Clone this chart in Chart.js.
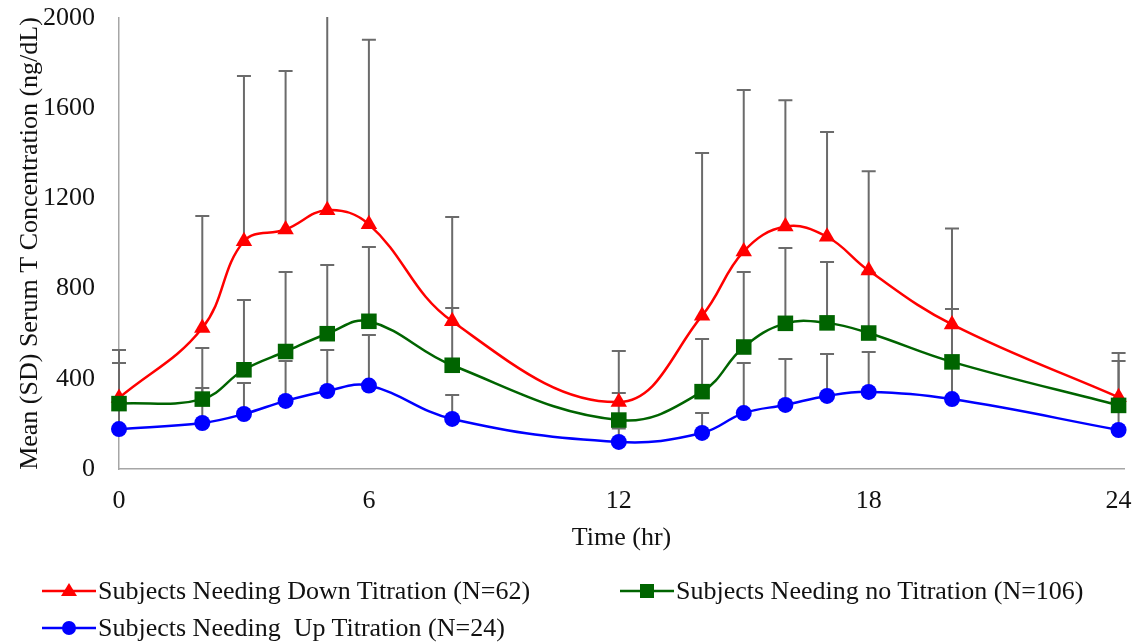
<!DOCTYPE html>
<html>
<head>
<meta charset="utf-8">
<script src="https://cdn.jsdelivr.net/npm/chart.js@4.4.0/dist/chart.umd.min.js"></script>
<style>
  body { margin: 0; background: #fff; }
  #wrap { position: relative; width: 1135px; height: 643px; }
  #legend { position: absolute; left: 0; top: 0; width: 1135px; height: 643px; pointer-events: none;
            font-family: 'Liberation Serif', 'Times New Roman', serif; font-size: 26px; color: #111; }
  .item { position: absolute; display: flex; align-items: center; white-space: pre; }
  .item svg { margin-right: 2px; }
</style>
</head>
<body>
<div id="wrap">
  <canvas id="chart" width="1135" height="643"></canvas>
  <div id="legend"></div>
</div>
<script>
const hours = [0, 2, 3, 4, 5, 6, 8, 12, 14, 15, 16, 17, 18, 20, 24];
const xTicks = [0, 6, 12, 18, 24];

const downMean = [315, 625, 1010, 1062, 1148, 1085, 655, 297, 680, 965, 1075, 1030, 880, 641, 318];
const downSD   = [213, 497, 733, 703, 912, 818, 463, 226, 721, 716, 560, 465, 440, 426, 196];

const noneMean = [290, 310, 440, 521, 600, 655, 460, 217, 343, 541, 646, 648, 603, 475, 282];
const noneSD   = [180, 227, 310, 353, 305, 330, 254, 120, 234, 333, 334, 270, 267, 235, 197];

const upMean = [177, 204, 244, 302, 346, 370, 222, 120, 160, 248, 284, 324, 342, 310, 173];
const upSD   = [93, 155, 137, 177, 182, 224, 106, 60, 88, 222, 204, 186, 177, 160, 127];

const names = [
  'Subjects Needing Down Titration (N=62)',
  'Subjects Needing no Titration (N=106)',
  'Subjects Needing  Up Titration (N=24)'
];
const colors = ['#ff0000', '#006400', '#0000ff'];
const markers = ['triangle', 'rect', 'circle'];
const markerSize = [9.5, 11, 8];

const means = [downMean, noneMean, upMean];
const sds = [downSD, noneSD, upSD];

const serif = "'Liberation Serif', 'Times New Roman', serif";

// upper SD bars, drawn under the lines and markers
const errorBars = {
  id: 'errorBars',
  beforeDatasetsDraw(chart) {
    const ctx = chart.ctx;
    const area = chart.chartArea;
    const y = chart.scales.y;
    ctx.save();
    ctx.beginPath();
    ctx.rect(area.left - 20, area.top - 1, area.right - area.left + 40, area.bottom - area.top + 2);
    ctx.clip();
    ctx.strokeStyle = '#6b6b6b';
    ctx.lineWidth = 2;
    chart.data.datasets.forEach((ds, di) => {
      const meta = chart.getDatasetMeta(di);
      meta.data.forEach((pt, i) => {
        const top = y.getPixelForValue(ds.data[i].y + ds.sd[i]);
        ctx.beginPath();
        ctx.moveTo(pt.x, pt.y);
        ctx.lineTo(pt.x, top);
        if (top > area.top + 2) {
          ctx.moveTo(pt.x - 7, top);
          ctx.lineTo(pt.x + 7, top);
        }
        ctx.stroke();
      });
    });
    ctx.restore();
  }
};

const datasets = means.map((m, k) => ({
  label: names[k],
  data: hours.map((h, i) => ({ x: h, y: m[i] })),
  sd: sds[k],
  borderColor: colors[k],
  backgroundColor: colors[k],
  borderWidth: 2.5,
  pointStyle: markers[k],
  pointRadius: markerSize[k],
  pointBorderWidth: 0,
  pointBackgroundColor: colors[k],
  tension: 0.4,
  clip: false
})).reverse();

new Chart(document.getElementById('chart'), {
  type: 'line',
  data: { datasets: datasets },
  options: {
    responsive: false,
    animation: false,
    layout: { padding: { left: 0, right: 0, top: 18, bottom: 74 } },
    plugins: {
      legend: { display: false },
      tooltip: { enabled: false }
    },
    scales: {
      x: {
        type: 'linear',
        min: 0,
        max: 24.13,
        afterBuildTicks: (s) => { s.ticks = xTicks.map(v => ({ value: v })); },
        afterFit: (s) => { s.height = 100; s.paddingLeft = 0; s.paddingRight = 0; },
        grid: { display: false, drawTicks: false },
        border: { display: true, color: '#a6a6a6', width: 1.5 },
        ticks: { color: '#111', padding: 17, font: { family: serif, size: 26 } },
        title: { display: true, text: 'Time (hr)', color: '#111', padding: { top: 0, bottom: 15 },
                 font: { family: serif, size: 26 } }
      },
      y: {
        min: 0,
        max: 2000,
        afterFit: (s) => { s.width = 119; s.paddingTop = 0; s.paddingBottom = 0; },
        grid: { display: false, drawTicks: false },
        border: { display: true, color: '#a6a6a6', width: 1.5 },
        ticks: { stepSize: 400, color: '#111', padding: 24, font: { family: serif, size: 26 },
                 callback: (v) => String(v) },
        title: { display: true, text: 'Mean (SD) Serum T Concentration (ng/dL)', color: '#111',
                 padding: { top: 15, bottom: 0 }, font: { family: serif, size: 26 } }
      }
    }
  },
  plugins: [errorBars]
});

// legend, two columns like the original
const legendPos = [[42, 591], [620, 591], [42, 628]];
const legend = document.getElementById('legend');
names.forEach((name, k) => {
  const div = document.createElement('div');
  div.className = 'item';
  div.style.left = legendPos[k][0] + 'px';
  div.style.top = (legendPos[k][1] - 16) + 'px';
  div.style.height = '32px';
  let mark = '';
  if (markers[k] === 'triangle') mark = `<polygon points="27,8 35,21 19,21" fill="${colors[k]}"/>`;
  else if (markers[k] === 'rect') mark = `<rect x="20" y="9" width="14" height="14" fill="${colors[k]}"/>`;
  else mark = `<circle cx="27" cy="16" r="7" fill="${colors[k]}"/>`;
  div.innerHTML = `<svg width="54" height="32"><line x1="0" y1="16" x2="54" y2="16" stroke="${colors[k]}" stroke-width="2.5"/>${mark}</svg><span>${name}</span>`;
  legend.appendChild(div);
});
</script>
</body>
</html>
